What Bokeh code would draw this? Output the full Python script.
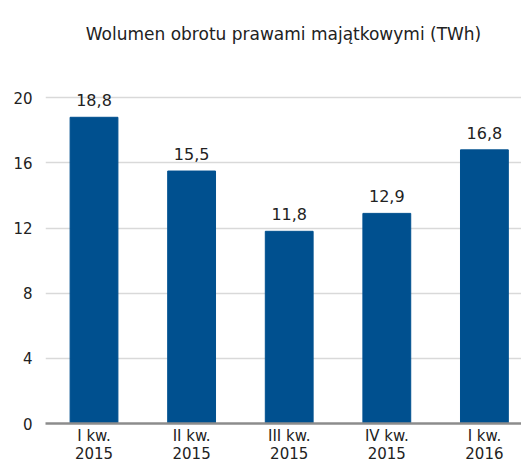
from bokeh.plotting import figure
from bokeh.models import ColumnDataSource, LabelSet, Range1d, FixedTicker
from bokeh.core.properties import value
from bokeh.embed import file_html
from bokeh.resources import INLINE

title_text = "Wolumen obrotu prawami majątkowymi (TWh)"
categories = ["I kw.\n2015", "II kw.\n2015", "III kw.\n2015", "IV kw.\n2015", "I kw.\n2016"]
values = [18.8, 15.5, 11.8, 12.9, 16.8]
value_labels = ["18,8", "15,5", "11,8", "12,9", "16,8"]
y_ticks = [0, 4, 8, 12, 16, 20]

positions = list(range(len(categories)))
source = ColumnDataSource(dict(x=positions, val=values, lab=value_labels))

FONT = "DejaVu Sans"

p = figure(x_range=Range1d(-0.497, 4.38), y_range=Range1d(0, 22.9), width=521, height=465,
           output_backend="svg", toolbar_location=None, title=title_text,
           min_border_left=45, min_border_right=0, min_border_top=50, min_border_bottom=0)

p.title.align = "center"
p.title.vertical_align = "top"
p.title.text_font = FONT
p.title.text_font_style = "normal"
p.title.text_font_size = "17px"
p.title.text_color = "#222222"

p.vbar(x="x", top="val", width=0.49, source=source, color="#00508f")

labels = LabelSet(x="x", y="val", text="lab", source=source, text_align="center",
                  text_baseline="bottom", y_offset=11, text_font=value(FONT),
                  text_font_size="16px", text_color="#222222")
p.add_layout(labels)

p.outline_line_color = None
p.background_fill_color = "white"
p.xgrid.grid_line_color = None
p.ygrid.grid_line_color = "#d9d9d9"
p.ygrid.grid_line_width = 1.5
p.yaxis.ticker = FixedTicker(ticks=y_ticks)
p.xaxis.ticker = FixedTicker(ticks=positions)
p.xaxis.major_label_overrides = {i: c for i, c in zip(positions, categories)}

p.yaxis.axis_line_color = None
p.yaxis.major_tick_line_color = None
p.yaxis.minor_tick_line_color = None
p.yaxis.major_tick_out = 0
p.yaxis.major_tick_in = 0
p.yaxis.minor_tick_out = 0
p.yaxis.minor_tick_in = 0
p.yaxis.major_label_text_font = FONT
p.yaxis.major_label_text_font_size = "15px"
p.yaxis.major_label_text_color = "#222222"
p.yaxis.major_label_standoff = 13

p.xaxis.axis_line_color = "#8c8c8c"
p.xaxis.axis_line_width = 2.5
p.xaxis.major_tick_line_color = None
p.xaxis.minor_tick_line_color = None
p.xaxis.major_tick_out = 0
p.xaxis.major_tick_in = 0
p.xaxis.minor_tick_out = 0
p.xaxis.minor_tick_in = 0
p.xaxis.major_label_text_font = FONT
p.xaxis.major_label_text_font_size = "15px"
p.xaxis.major_label_text_line_height = 1.0
p.xaxis.major_label_text_color = "#222222"
p.xaxis.major_label_standoff = 3

open("out.html", "w").write(file_html(p, INLINE))
